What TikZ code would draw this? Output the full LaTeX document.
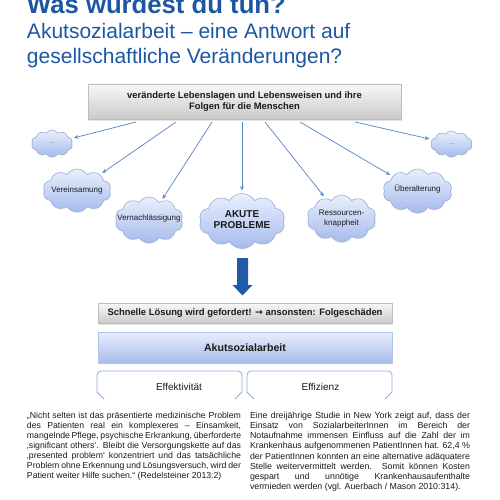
\documentclass[tikz,border=0pt]{standalone}
\usepackage{fontspec}
\setmainfont{Liberation Sans}
\newfontfamily\symf{DejaVu Sans}
\usetikzlibrary{shapes.symbols,shadows,arrows.meta,calc}

\definecolor{titleblue}{HTML}{1D56A2}
\definecolor{connblue}{HTML}{5B89C4}
\definecolor{cloudtop}{HTML}{E9EFFC}
\definecolor{cloudbot}{HTML}{A6BBEC}
\definecolor{cloudedge}{HTML}{98ACDB}
\definecolor{graytop}{HTML}{F8F8F8}
\definecolor{graybot}{HTML}{CACACA}
\definecolor{grayedge}{HTML}{BDBDBD}
\definecolor{bigarrowcol}{HTML}{1F5BA8}
\definecolor{effedge}{HTML}{8DAEDB}
\definecolor{akedge}{HTML}{B3C4EA}
\definecolor{txt}{HTML}{1A1A1A}
\definecolor{dots}{HTML}{7A7A7A}

\newcommand{\fsz}[2]{\fontsize{#1}{#2}\selectfont}
\newcommand{\jl}[2]{\makebox[#1][s]{#2}}

\begin{document}
\begin{tikzpicture}[x=1pt,y=-1pt,
  every node/.style={inner sep=0pt, outer sep=0pt, text=txt},
  graybox/.style={draw=grayedge, line width=0.6pt, top color=graytop, bottom color=graybot,
    drop shadow={opacity=0.22, shadow xshift=1pt, shadow yshift=-1.5pt}},
  akbox/.style={draw=akedge, line width=0.8pt, top color=cloudtop, bottom color=cloudbot,
    drop shadow={opacity=0.18, shadow xshift=0.8pt, shadow yshift=-1.2pt}},
  cloudn/.style={cloud, cloud puffs=10, cloud puff arc=115, cloud ignores aspect,
    draw=cloudedge, line width=0.6pt, top color=cloudtop, bottom color=cloudbot,
    drop shadow={opacity=0.15, shadow xshift=0.6pt, shadow yshift=-1pt}},
  cloudtext/.style={font=\fsz{8}{9.5}, align=center, text=txt},
  dottext/.style={font=\fsz{7}{8}, text=dots},
  conn/.style={draw=connblue, line width=0.75pt, -{Stealth[length=4.5pt,width=4pt]}, shorten >=3pt},
  effline/.style={draw=effedge, line width=0.8pt},
  para/.style={align=left, anchor=north west, text=txt}
]
\useasboundingbox (0,0) rectangle (500,500);
\clip (0,0) rectangle (500,500);

% titles
\node[anchor=base west, font=\fsz{25.7}{30}\bfseries, text=titleblue] (t1) at (27,14) {Was würdest du tun?};
\node[anchor=base west, font=\fsz{21}{25}, text=titleblue] (t2) at (27,39) {Akutsozialarbeit – eine Antwort auf};
\node[anchor=base west, font=\fsz{21}{25}, text=titleblue] (t3) at (27,64) {gesellschaftliche Veränderungen?};

% top box
\node[graybox, minimum width=313, minimum height=35, font=\fsz{9.4}{11.5}\bfseries, align=center] (top) at (244.5,101.5)
  {veränderte Lebenslagen und Lebensweisen und ihre\\Folgen für die Menschen};

% clouds
\node[cloudn, minimum width=41, minimum height=27, label={[dottext]center:...}] (c1) at (52,143.5) {};
\node[cloudn, minimum width=68, minimum height=43, label={[cloudtext]center:Vereinsamung}] (c2) at (77,190.5) {};
\node[cloudn, minimum width=68, minimum height=46, label={[cloudtext, yshift=1.5pt]center:Vernachlässigung}] (c3) at (149,220) {};
\node[cloudn, minimum width=86, minimum height=55, label={[font=\fsz{10}{11.5}\bfseries, align=center, text=txt, yshift=1.5pt]center:AKUTE\\PROBLEME}] (c4) at (242,221) {};
\node[cloudn, minimum width=69, minimum height=47, label={[cloudtext]center:Ressourcen-\\knappheit}] (c5) at (341.5,218.5) {};
\node[cloudn, minimum width=69, minimum height=44, label={[cloudtext, yshift=2pt]center:Überalterung}] (c6) at (417.5,191) {};
\node[cloudn, minimum width=41, minimum height=26, label={[dottext]center:...}] (c7) at (451.5,144) {};

% connectors
\draw[conn] ($(top.south west)+(48,3)$) -- (c1);
\draw[conn] ($(top.south west)+(88,3)$) -- (c2);
\draw[conn] ($(top.south west)+(124,3)$) -- (c3);
\draw[conn] ($(top.south west)+(154,3)$) -- (c4);
\draw[conn] ($(top.south west)+(177,3)$) -- (c5);
\draw[conn] ($(top.south west)+(212,3)$) -- (c6);
\draw[conn] ($(top.south west)+(267,3)$) -- (c7);

% big arrow
\fill[bigarrowcol] (237,258) -- (248,258) -- (248,285) -- (252.5,285) -- (242.5,295.5) -- (232.5,285) -- (237,285) -- cycle;

% solution box
\node[graybox, minimum width=294, minimum height=20, font=\fsz{9.4}{11}\bfseries] (sol) at (245,313)
  {Schnelle Lösung wird gefordert! {\symf\bfseries →} ansonsten: Folgeschäden};

% Akutsozialarbeit
\node[akbox, minimum width=294, minimum height=31, font=\fsz{10.6}{12}\bfseries] (akut) at (245,347.5) {Akutsozialarbeit};

% Effektivitaet / Effizienz
\node[minimum width=145, minimum height=28, label={[font=\fsz{10}{12}, xshift=9.5pt, yshift=-2pt]center:Effektivität}] (eff) at (169.5,385) {};
\node[minimum width=145, minimum height=28, label={[font=\fsz{10}{12}, xshift=1pt, yshift=-2pt]center:Effizienz}] (effz) at (319.5,385) {};
\draw[effline] ($(eff.south west)+(7,0)$) -- ($(eff.south west)+(0,-7)$) [rounded corners=4pt] -- (eff.north west) -- (eff.north east) [sharp corners] -- ($(eff.south east)+(0,-7)$) -- ($(eff.south east)+(-7,0)$);
\draw[effline] ($(effz.south west)+(7,0)$) -- ($(effz.south west)+(0,-7)$) [rounded corners=4pt] -- (effz.north west) -- (effz.north east) [sharp corners] -- ($(effz.south east)+(0,-7)$) -- ($(effz.south east)+(-7,0)$);

% paragraphs
\node[para, font=\fsz{8.7}{10}] (pl) at (27,412.5) {%
\jl{214pt}{„Nicht selten ist das präsentierte medizinische Problem}\\
\jl{214pt}{des Patienten real ein komplexeres – Einsamkeit,}\\
\jl{214pt}{mangelnde Pflege, psychische Erkrankung, überforderte}\\
\jl{214pt}{‚significant others‘. Bleibt die Versorgungskette auf das}\\
\jl{214pt}{‚presented problem‘ konzentriert und das tatsächliche}\\
\jl{214pt}{Problem ohne Erkennung und Lösungsversuch, wird der}\\
Patient weiter Hilfe suchen.“ (Redelsteiner 2013:2)};

\node[para, font=\fsz{8.8}{10.2}] (pr) at (250,412) {%
\jl{220pt}{Eine dreijährige Studie in New York zeigt auf, dass der}\\
\jl{220pt}{Einsatz von SozialarbeiterInnen im Bereich der}\\
\jl{220pt}{Notaufnahme immensen Einfluss auf die Zahl der im}\\
\jl{220pt}{Krankenhaus aufgenommenen PatientInnen hat. 62,4 \%}\\
\jl{220pt}{der PatientInnen konnten an eine alternative adäquatere}\\
\jl{220pt}{Stelle weitervermittelt werden. Somit können Kosten}\\
\jl{220pt}{gespart und unnötige Krankenhausaufenthalte}\\
vermieden werden (vgl. Auerbach / Mason 2010:314).};
\end{tikzpicture}
\end{document}
